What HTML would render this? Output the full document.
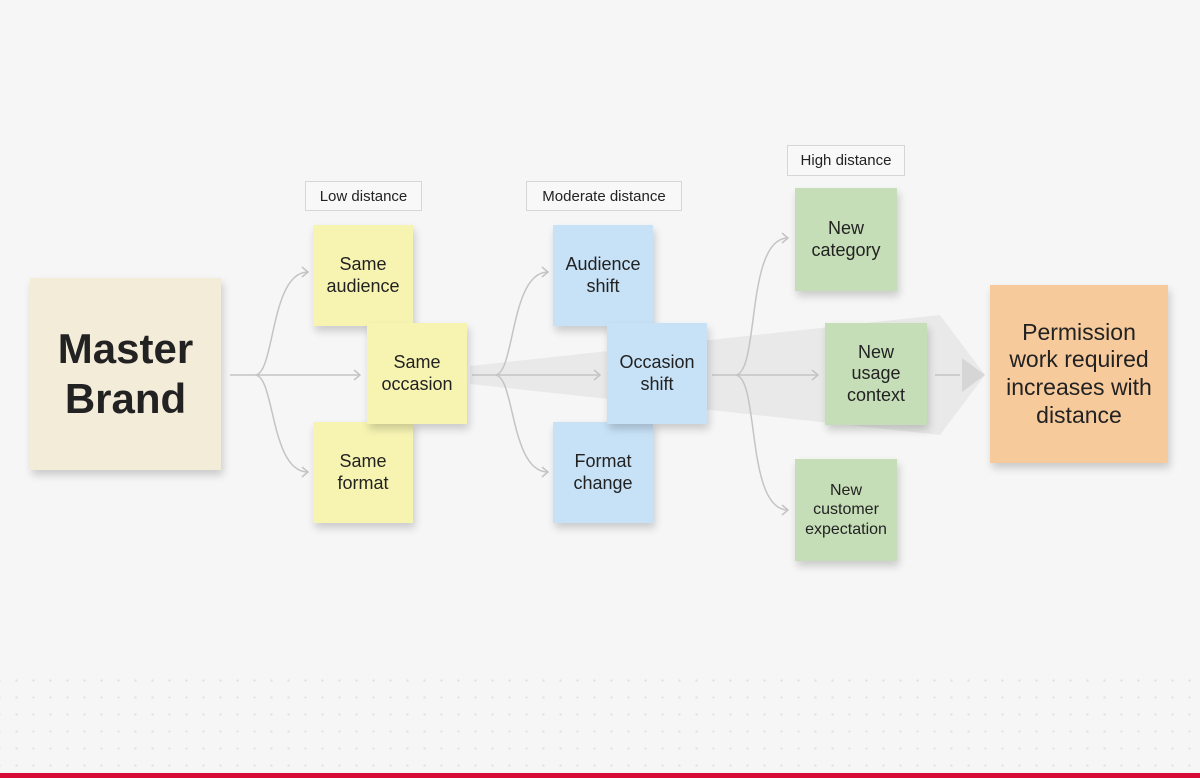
<!DOCTYPE html>
<html><head><meta charset="utf-8"><style>
body{margin:0;width:1200px;height:778px;background:#f6f6f6;overflow:hidden;position:relative;font-family:"Liberation Sans",sans-serif;color:#222}
.n{position:absolute;display:flex;align-items:center;justify-content:center;text-align:center;box-shadow:2px 5px 8px rgba(0,0,0,.18);line-height:1.2}
.y{background:#f7f4b2;font-size:18px}
.b{background:#c7e1f6;font-size:18px}
.g{background:#c5deb8;font-size:18px}
.l{position:absolute;border:1px solid #d6d6d6;background:#f8f8f8;font-size:15px;display:flex;align-items:center;justify-content:center}
.dots{position:absolute;left:0;top:672px;width:1200px;height:100px;background-image:radial-gradient(circle,#e0e0e0 1px,transparent 1.3px);background-size:17px 17px;background-position:8px 0}
</style></head><body>
<div class="dots"></div>
<svg width="1200" height="778" style="position:absolute;left:0;top:0">
<polygon points="470,366 940,315 985,375 940,435 470,384" fill="#e9e9e9"/>
<polygon points="962,358 985,375 962,392" fill="#d6d6d6"/>
<g fill="none" stroke="#c4c4c4" stroke-width="1.5">
<path d="M230,375 H360 M255,375 C275,375 270,272 308,272 M255,375 C275,375 270,472 308,472"/>
<path d="M302,267 L308,272 L302,277 M354,370 L360,375 L354,380 M302,467 L308,472 L302,477"/>
<path d="M472,375 H600 M495,375 C515,375 510,272 548,272 M495,375 C515,375 510,472 548,472"/>
<path d="M542,267 L548,272 L542,277 M594,370 L600,375 L594,380 M542,467 L548,472 L542,477"/>
<path d="M712,375 H818 M735,375 C760,375 745,238 788,238 M735,375 C760,375 745,510 788,510"/>
<path d="M782,233 L788,238 L782,243 M812,370 L818,375 L812,380 M782,505 L788,510 L782,515"/>
<path d="M935,375 H960"/>
</g></svg>
<div class="n" style="left:30px;top:278px;width:191px;height:192px;background:#f3ecd9;font-size:42px;font-weight:bold;line-height:1.2">Master<br>Brand</div>
<div class="l" style="left:305px;top:181px;width:115px;height:28px">Low distance</div>
<div class="l" style="left:526px;top:181px;width:154px;height:28px">Moderate distance</div>
<div class="l" style="left:787px;top:145px;width:116px;height:29px">High distance</div>
<div class="n y" style="left:313px;top:225px;width:100px;height:101px">Same<br>audience</div>
<div class="n y" style="left:313px;top:422px;width:100px;height:101px">Same<br>format</div>
<div class="n y" style="left:367px;top:323px;width:100px;height:101px">Same<br>occasion</div>
<div class="n b" style="left:553px;top:225px;width:100px;height:101px">Audience<br>shift</div>
<div class="n b" style="left:553px;top:422px;width:100px;height:101px">Format<br>change</div>
<div class="n b" style="left:607px;top:323px;width:100px;height:101px">Occasion<br>shift</div>
<div class="n g" style="left:795px;top:188px;width:102px;height:103px">New<br>category</div>
<div class="n g" style="left:825px;top:323px;width:102px;height:102px">New<br>usage<br>context</div>
<div class="n g" style="left:795px;top:459px;width:102px;height:102px;font-size:16px">New<br>customer<br>expectation</div>
<div class="n" style="left:990px;top:285px;width:178px;height:178px;background:#f7ca9c;font-size:23px">Permission<br>work required<br>increases with<br>distance</div>
<div style="position:absolute;left:0;top:773px;width:1200px;height:5px;background:#d60a35"></div>
</body></html>
